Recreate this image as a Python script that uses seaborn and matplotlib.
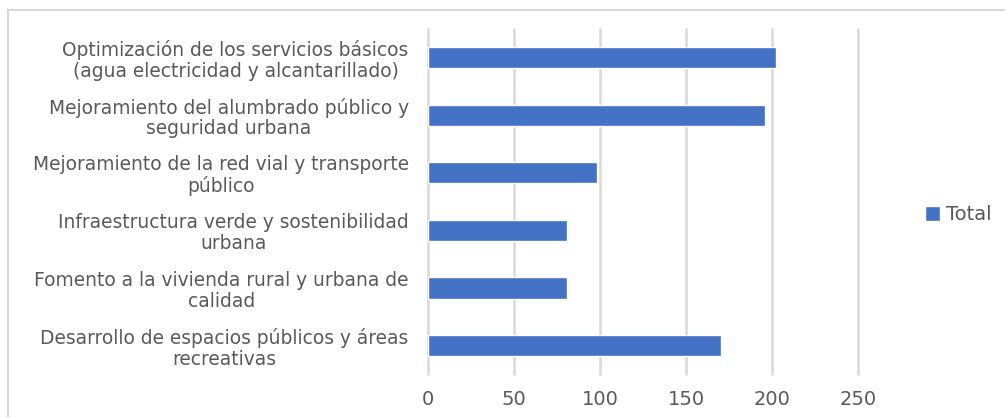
import numpy as np
import pandas as pd
import matplotlib.pyplot as plt
import seaborn as sns
from matplotlib.patches import Rectangle

categorias = [
    "Optimización de los servicios básicos\n(agua electricidad y alcantarillado)",
    "Mejoramiento del alumbrado público y\nseguridad urbana",
    "Mejoramiento de la red vial y transporte\npúblico",
    "Infraestructura verde y sostenibilidad\nurbana",
    "Fomento a la vivienda rural y urbana de\ncalidad",
    "Desarrollo de espacios públicos y áreas\nrecreativas",
]
totales = [202, 196, 98, 81, 81, 170]
serie = "Total"
x_ticks = [0, 50, 100, 150, 200, 250]

df = pd.DataFrame({"categoria": categorias, "valor": totales, "serie": serie})

sns.set_style("white")
plt.rcParams['font.family'] = ['DejaVu Sans']

text_color = '#595959'
grid_color = '#d9d9d9'
bar_color = '#4472C4'

fig = plt.figure(figsize=(10.05, 4.17), dpi=100)
ax = fig.add_axes([0.426, 0.102, 0.428, 0.829])

sns.barplot(data=df, x="valor", y="categoria", hue="serie", palette=[bar_color],
            orient="h", width=0.37, ax=ax, saturation=1)

ax.set_xlim(0, 250)
ax.set_xticks(x_ticks)
ax.xaxis.grid(True, color=grid_color, linewidth=1.8)
for gl in ax.get_xgridlines():
    gl.set_clip_on(False)
ax.set_axisbelow(True)
for s in ax.spines.values():
    s.set_visible(False)
ax.tick_params(axis='both', length=0, colors=text_color)
ax.tick_params(axis='x', labelsize=14, pad=11)
ax.tick_params(axis='y', labelsize=13.4, pad=14)
for lbl in ax.get_yticklabels():
    lbl.set_multialignment('center')
    lbl.set_linespacing(1.12)
ax.set_xlabel('')
ax.set_ylabel('')

ax.legend_.remove()
handles, labels = ax.get_legend_handles_labels()
leg = fig.legend(handles, labels, loc='center left', bbox_to_anchor=(0.913, 0.485),
                 frameon=False, fontsize=14, handlelength=0.75, handleheight=0.75,
                 handletextpad=0.3, borderaxespad=0)
for t in leg.get_texts():
    t.set_color(text_color)

# marco del gráfico
fig.patches.append(Rectangle((8 / 1005, -0.05), 1.1, 0.05 + (417 - 10) / 417,
                             transform=fig.transFigure, fill=False,
                             edgecolor=grid_color, linewidth=1.5))

fig.savefig('out.png', dpi=100)
